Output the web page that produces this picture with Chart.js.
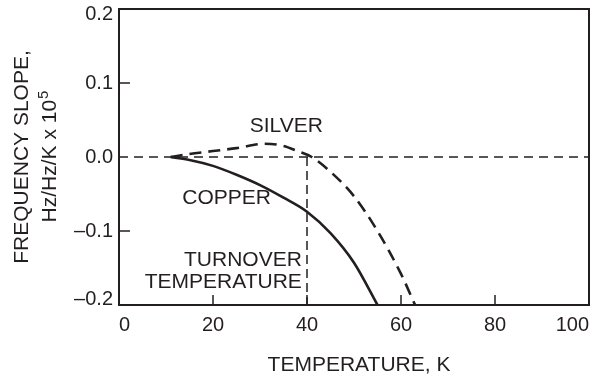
<!DOCTYPE html>
<html><head><meta charset="utf-8">
<script src="https://cdn.jsdelivr.net/npm/chart.js@4"></script>
<style>html,body{margin:0;padding:0;background:#fff}#wrap{width:604px;height:379px}</style>
</head><body><div id="wrap"><canvas id="c" width="604" height="379"></canvas></div>
<script>
// ---- data ----
const copperT     = [11, 15, 20, 25, 30, 35, 40, 45, 50, 55];
const copperSlope = [0, -0.004, -0.012, -0.024, -0.038, -0.055, -0.074, -0.103, -0.143, -0.2];
const silverT     = [11, 15, 20, 25, 31, 35, 38, 41, 45, 50, 55, 60, 63];
const silverSlope = [0, 0.004, 0.008, 0.012, 0.018, 0.015, 0.008, 0, -0.02, -0.053, -0.1, -0.158, -0.2];
const zeroT       = [0, 100];
const zeroSlope   = [0, 0];
const turnoverT     = [40, 40];
const turnoverSlope = [0, -0.2];
const xTickLabels = ['0', '20', '40', '60', '80', '100'];
const yTickLabels = ['\u20130.2', '\u20130.1', '0.0', '0.1', '0.2'];
const xTitle = 'TEMPERATURE, K';
const yTitle1 = 'FREQUENCY SLOPE,';
const yTitle2 = 'Hz/Hz/K x 10';
const yTitleSup = '5';
const silverName = 'SILVER';
const copperName = 'COPPER';
const turnoverName = ['TURNOVER', 'TEMPERATURE'];

const INK = '#231f20';
const FONT = '"Liberation Sans", Arial, Helvetica, sans-serif';
const pts = (xs, ys) => xs.map((x, i) => ({x, y: ys[i]}));

const decor = {
  id: 'decor',
  beforeDraw(chart) {
    // keep the end labels of the y axis inside the frame height
    const items = chart.scales.y.getLabelItems();
    if (items.length) {
      const first = items[0].options.translation, last = items[items.length - 1].options.translation;
      items[0].options.translation = [first[0], first[1] - 5.5];
      items[items.length - 1].options.translation = [last[0], last[1] + 5.5];
    }
  },
  afterDatasetsDraw(chart) {
    const {ctx, chartArea: a, scales: {x, y}} = chart;
    ctx.save();
    ctx.strokeStyle = INK;
    // inward ticks
    ctx.lineWidth = 1.5;
    [20, 40, 60, 80].forEach(v => {
      const px = x.getPixelForValue(v);
      ctx.beginPath(); ctx.moveTo(px, a.bottom); ctx.lineTo(px, a.bottom - 10); ctx.stroke();
    });
    [0.1, -0.1].forEach(v => {
      const py = y.getPixelForValue(v);
      ctx.beginPath(); ctx.moveTo(a.left, py); ctx.lineTo(a.left + 11, py); ctx.stroke();
    });
    // frame
    ctx.lineWidth = 2;
    ctx.strokeRect(a.left, a.top, a.right - a.left, a.bottom - a.top);
    // annotations
    ctx.fillStyle = INK;
    ctx.font = '21px ' + FONT;
    ctx.textBaseline = 'middle';
    ctx.textAlign = 'center';
    ctx.fillText(silverName, x.getPixelForValue(35.6), y.getPixelForValue(0.042));
    ctx.fillText(copperName, x.getPixelForValue(22.9), y.getPixelForValue(-0.056));
    ctx.textAlign = 'right';
    ctx.fillText(turnoverName[0], x.getPixelForValue(38.9), y.getPixelForValue(-0.139));
    ctx.fillText(turnoverName[1], x.getPixelForValue(38.9), y.getPixelForValue(-0.169));
    // axis titles
    ctx.font = '21px ' + FONT;
    ctx.textAlign = 'center';
    ctx.textBaseline = 'alphabetic';
    ctx.fillText(xTitle, (a.left + a.right) / 2 + 5, 371);
    const cy = (a.top + a.bottom) / 2;
    ctx.save();
    ctx.translate(28, cy); ctx.rotate(-Math.PI / 2);
    ctx.fillText(yTitle1, 0, 0);
    ctx.restore();
    ctx.save();
    ctx.translate(55.5, cy); ctx.rotate(-Math.PI / 2);
    ctx.font = '21px ' + FONT;
    const w1 = ctx.measureText(yTitle2).width;
    ctx.font = '15px ' + FONT;
    const w2 = ctx.measureText(yTitleSup).width;
    const start = -(w1 + w2) / 2;
    ctx.textAlign = 'left';
    ctx.font = '21px ' + FONT;
    ctx.fillText(yTitle2, start, 0);
    ctx.font = '15px ' + FONT;
    ctx.fillText(yTitleSup, start + w1 + 1, -8);
    ctx.restore();
    ctx.restore();
  }
};

new Chart(document.getElementById('c'), {
  type: 'scatter',
  data: {
    datasets: [
      {data: pts(zeroT, zeroSlope), showLine: true, borderColor: INK, borderWidth: 1.5, borderDash: [9, 6], pointRadius: 0},
      {data: pts(turnoverT, turnoverSlope), showLine: true, borderColor: INK, borderWidth: 1.5, borderDash: [9, 5], pointRadius: 0},
      {data: pts(copperT, copperSlope), showLine: true, borderColor: INK, borderWidth: 2.6, pointRadius: 0, cubicInterpolationMode: 'monotone'},
      {data: pts(silverT, silverSlope), showLine: true, borderColor: INK, borderWidth: 2.6, borderDash: [12, 7], pointRadius: 0, cubicInterpolationMode: 'monotone'}
    ]
  },
  options: {
    responsive: false,
    animation: false,
    devicePixelRatio: 1,
    layout: {padding: {left: 0, top: 9, right: 15, bottom: 0}},
    plugins: {legend: {display: false}, tooltip: {enabled: false}},
    scales: {
      x: {
        type: 'linear', min: 0, max: 100,
        grid: {display: false, drawTicks: false},
        border: {display: false},
        ticks: {stepSize: 20, color: INK, font: {size: 20, family: FONT}, padding: 8, align: 'inner',
          callback: (v, i) => xTickLabels[i]},
        afterFit(s) { s.height = 74; s.paddingLeft = 0; s.paddingRight = 0; }
      },
      y: {
        type: 'linear', min: -0.2, max: 0.2,
        grid: {display: false, drawTicks: false},
        border: {display: false},
        ticks: {stepSize: 0.1, color: INK, font: {size: 20, family: FONT}, padding: 6,
          callback: (v, i) => yTickLabels[i]},
        afterFit(s) { s.width = 119; s.paddingTop = 0; s.paddingBottom = 0; }
      }
    }
  },
  plugins: [decor]
});
</script></body></html>
